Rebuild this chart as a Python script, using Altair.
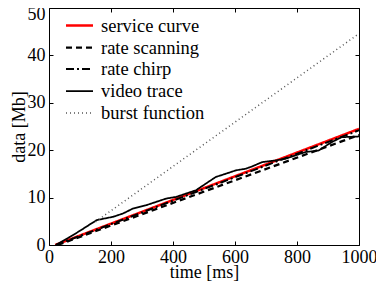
import altair as alt
import pandas as pd

series_order = ["service curve", "rate scanning", "rate chirp", "video trace", "burst function"]

service_t = [20, 1000]
service_v = [0, 24.5]

scan_t = [28, 1000]
scan_v = [0, 23.2]

chirp_t = [22, 1000]
chirp_v = [0, 24.2]

video_t = [22, 60, 100, 138, 154, 180, 207, 239, 271, 314, 346, 378, 410, 442, 474,
           506, 538, 571, 603, 635, 656, 688, 731, 763, 795, 827, 870, 912, 944, 1000]
video_v = [0, 1.4, 3.0, 4.6, 5.25, 5.6, 5.95, 6.65, 7.7, 8.4, 9.1, 9.8, 10.15, 10.85, 11.55,
           12.95, 14.35, 15.05, 15.75, 16.1, 16.6, 17.5, 17.85, 18.2, 18.9, 19.6, 19.95, 21.7, 22.75, 22.9]

burst_t = [150, 1000]
burst_v = [4.9, 44.6]

x_ticks = [0, 200, 400, 600, 800, 1000]
y_ticks = [0, 10, 20, 30, 40, 50]

rows = []
for name, ts, vs in [
    ("service curve", service_t, service_v),
    ("rate scanning", scan_t, scan_v),
    ("rate chirp", chirp_t, chirp_v),
    ("video trace", video_t, video_v),
    ("burst function", burst_t, burst_v),
]:
    for t, v in zip(ts, vs):
        rows.append({"series": name, "t": t, "v": v})
df = pd.DataFrame(rows)

FONT = "Liberation Serif"

xscale = alt.Scale(domain=[0, 1000], nice=False)
yscale = alt.Scale(domain=[0, 50], nice=False)

lines = alt.Chart(df).mark_line(clip=True).encode(
    x=alt.X("t:Q", scale=xscale, title="time [ms]",
            axis=alt.Axis(values=x_ticks, format="d", offset=-4, tickSize=4, domain=False,
                          grid=False, labelPadding=3, labelFlush=False, titlePadding=-3)),
    y=alt.Y("v:Q", scale=yscale, title="data [Mb]",
            axis=alt.Axis(values=y_ticks, format="d", offset=-4, tickSize=4, domain=False,
                          grid=False, labelPadding=4, labelFlush=False, titlePadding=-1,
                          labelOffset={"condition": {"test": "datum.value == 50", "value": 6},
                                       "value": 0})),
    color=alt.Color("series:N", sort=series_order,
                    scale=alt.Scale(domain=series_order,
                                    range=["#ff0000", "#000000", "#000000", "#000000", "#555555"]),
                    legend=alt.Legend(title=None, orient="none", legendX=19, legendY=6,
                                      symbolType="M-1.35,0L1.35,0", symbolSize=400,
                                      rowPadding=1, labelOffset=10)),
    strokeDash=alt.StrokeDash("series:N", sort=series_order,
                              scale=alt.Scale(domain=series_order,
                                              range=[[1, 0], [6, 4], [8, 3, 2, 3], [1, 0], [1, 3]]),
                              legend=alt.Legend(title=None)),
    strokeWidth=alt.StrokeWidth("series:N", sort=series_order,
                                scale=alt.Scale(domain=series_order, range=[2.5, 1.5, 1.5, 1.5, 1]),
                                legend=alt.Legend(title=None)),
    detail="series:N",
)

mirror = alt.Chart(df).mark_line(opacity=0).encode(
    x=alt.X("t:Q", scale=xscale, title=None,
            axis=alt.Axis(orient="top", values=x_ticks, offset=-4, tickSize=4, domain=False,
                          grid=False, labels=False)),
    y=alt.Y("v:Q", scale=yscale, title=None,
            axis=alt.Axis(orient="right", values=y_ticks, offset=-4, tickSize=4, domain=False,
                          grid=False, labels=False)),
    detail="series:N",
)

chart = alt.layer(lines, mirror).resolve_axis(x="independent", y="independent").properties(
    width=310, height=237,
    autosize=alt.AutoSizeParams(type="none"),
    padding={"left": 41, "top": 0, "right": 17, "bottom": 38},
).configure_view(stroke="black", strokeWidth=1).configure_axis(
    labelFont=FONT, labelFontSize=18, labelColor="black",
    titleFont=FONT, titleFontSize=18, titleFontWeight="normal", titleColor="black",
    tickColor="black", tickWidth=1,
).configure_legend(
    labelFont=FONT, labelFontSize=18.5, labelColor="black",
)

chart.save("out.html", embed_options={"renderer": "svg", "actions": False})
